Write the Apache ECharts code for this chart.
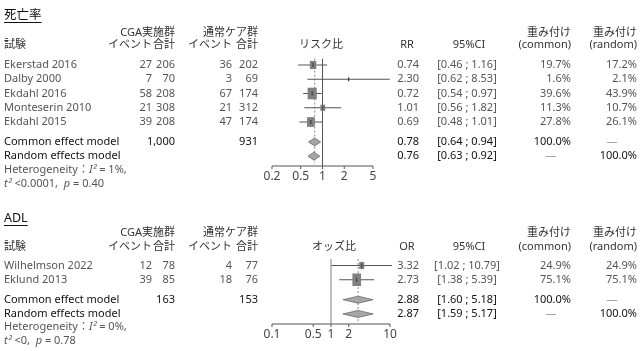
<!DOCTYPE html>
<html><head><meta charset="utf-8">
<script src="https://cdn.jsdelivr.net/npm/echarts@6/dist/echarts.min.js"></script>
<style>html,body{margin:0;padding:0;background:#fff}#c{width:640px;height:351px}</style>
</head><body><div id="c"></div>
<script>
// ---------- 死亡率 (mortality) ----------
const mortStudies = ['Ekerstad 2016','Dalby 2000','Ekdahl 2016','Monteserin 2010','Ekdahl 2015'];
const mortCgaEvents = [27, 7, 58, 21, 39];
const mortCgaTotal = [206, 70, 208, 308, 208];
const mortCtrlEvents = [36, 3, 67, 21, 47];
const mortCtrlTotal = [202, 69, 174, 312, 174];
const mortRR = [0.74, 2.30, 0.72, 1.01, 0.69];
const mortLo = [0.46, 0.62, 0.54, 0.56, 0.48];
const mortHi = [1.16, 8.53, 0.97, 1.82, 1.01];
const mortWCommon = [19.7, 1.6, 39.6, 11.3, 27.8];
const mortWRandom = [17.2, 2.1, 43.9, 10.7, 26.1];
const mortModelEst = [0.78, 0.76];
const mortModelLo = [0.64, 0.63];
const mortModelHi = [0.94, 0.92];
const mortTotals = ['1,000', '931'];
const mortTicks = [0.2, 0.5, 1, 2, 5];
const mortHet = ['1%', '<0.0001', '0.40'];

// ---------- ADL ----------
const adlStudies = ['Wilhelmson 2022','Eklund 2013'];
const adlCgaEvents = [12, 39];
const adlCgaTotal = [78, 85];
const adlCtrlEvents = [4, 18];
const adlCtrlTotal = [77, 76];
const adlOR = [3.32, 2.73];
const adlLo = [1.02, 1.38];
const adlHi = [10.79, 5.39];
const adlWCommon = [24.9, 75.1];
const adlWRandom = [24.9, 75.1];
const adlModelEst = [2.88, 2.87];
const adlModelLo = [1.60, 1.59];
const adlModelHi = [5.18, 5.17];
const adlTotals = ['163', '153'];
const adlTicks = [0.1, 0.5, 1, 2, 10];
const adlHet = ['0%', '<0', '0.78'];

const modelNames = ['Common effect model', 'Random effects model'];

const FONT = '"Noto Sans","Noto Sans CJK JP",sans-serif';
const rowH = 14.25, yMin = -1.5;
const FS = 11;

const panels = [
  {title:'死亡率', measure:'リスク比', effLabel:'RR', titleY:15, head1Y:33, head2Y:45, row0Y:65, axisY:166,
   left:272, right:373, xmin:0.2, xmax:5, ticks:mortTicks, refColor:'#555', refWidth:1,
   boxW:1.45, boxH:1.85, diaH:4, measureX:321, hetY:170,
   studies:mortStudies, ce:mortCgaEvents, ct:mortCgaTotal, ke:mortCtrlEvents, kt:mortCtrlTotal,
   est:mortRR, lo:mortLo, hi:mortHi, wc:mortWCommon, wr:mortWRandom,
   mEst:mortModelEst, mLo:mortModelLo, mHi:mortModelHi, totals:mortTotals, het:mortHet},
  {title:'ADL', measure:'オッズ比', effLabel:'OR', titleY:218, head1Y:233, head2Y:247, row0Y:265.5, axisY:324,
   left:272, right:390, xmin:0.1, xmax:10, ticks:adlTicks, refColor:'#aaa', refWidth:1.5,
   boxW:1.0, boxH:1.45, diaH:3.5, measureX:334, hetY:327,
   studies:adlStudies, ce:adlCgaEvents, ct:adlCgaTotal, ke:adlCtrlEvents, kt:adlCtrlTotal,
   est:adlOR, lo:adlLo, hi:adlHi, wc:adlWCommon, wr:adlWRandom,
   mEst:adlModelEst, mLo:adlModelLo, mHi:adlModelHi, totals:adlTotals, het:adlHet}
];

const col = {name:4, ce:152, ct:175, ke:232, kt:258, est:419, ci:467, wc:571, wr:637, wcDash:551, wrDash:612};

function fmt2(v){ return v.toFixed(2); }
function fmtW(v){ return v.toFixed(1) + '%'; }

const grids = [], xAxes = [], yAxes = [], series = [], graphics = [];

function txt(x, y, text, align, size, color, extra){
  return Object.assign({type:'text', style:{text:text, x:x, y:y, align:align, verticalAlign:'middle',
    fontSize:size, fontFamily:FONT, fill:color}}, extra || {});
}

const mc = document.createElement('canvas').getContext('2d');

panels.forEach((p, gi) => {
  const top = p.row0Y + yMin * rowH;
  const height = p.axisY - top;
  const yMax = yMin + height / rowH;
  const n = p.studies.length;
  grids.push({left:p.left, top:top, width:p.right - p.left, height:height});
  xAxes.push({type:'log', logBase:10, min:p.xmin, max:p.xmax, gridIndex:gi, show:false});
  yAxes.push({type:'value', inverse:true, min:yMin, max:yMax, gridIndex:gi, show:false});

  // guides: reference line, dashed pooled line, axis
  series.push({type:'custom', xAxisIndex:gi, yAxisIndex:gi, clip:false, silent:true, z:1,
    data:[[1, 0]],
    renderItem:(params, api) => {
      const ch = [];
      const a = api.coord([1, -0.45]), b = api.coord([1, yMax]);
      ch.push({type:'line', shape:{x1:a[0], y1:a[1], x2:b[0], y2:b[1]}, style:{stroke:p.refColor, lineWidth:p.refWidth}});
      const d1 = api.coord([p.mEst[0], -0.45]), d2 = api.coord([p.mEst[0], n + 1.4 + 0.5]);
      ch.push({type:'line', shape:{x1:d1[0], y1:d1[1], x2:d2[0], y2:d2[1]}, style:{stroke:'#888', lineWidth:1, lineDash:[2,2]}});
      const l = api.coord([p.xmin, yMax]), r = api.coord([p.xmax, yMax]);
      ch.push({type:'line', shape:{x1:l[0], y1:l[1], x2:r[0], y2:r[1]}, style:{stroke:'#555', lineWidth:1}});
      p.ticks.forEach(t => {
        const c = api.coord([t, yMax]);
        ch.push({type:'line', shape:{x1:c[0], y1:c[1], x2:c[0], y2:c[1] + 3}, style:{stroke:'#555', lineWidth:1}});
        ch.push(txt(c[0], c[1] + 10.5, String(t), 'center', 12, '#444'));
      });
      return {type:'group', children:ch};
    }});

  // forest marks
  const fdata = [];
  p.studies.forEach((s, i) => fdata.push([p.est[i], i, p.lo[i], p.hi[i], p.wc[i], 0]));
  p.mEst.forEach((e, j) => fdata.push([e, n + 0.4 + j, p.mLo[j], p.mHi[j], 0, 1]));
  series.push({type:'custom', xAxisIndex:gi, yAxisIndex:gi, clip:false, silent:true, z:2,
    data:fdata, encode:{x:0, y:1},
    renderItem:(params, api) => {
      const est = api.value(0), r = api.value(1), lo = api.value(2), hi = api.value(3), w = api.value(4), kind = api.value(5);
      const c = api.coord([est, r]), cl = api.coord([lo, r]), chh = api.coord([hi, r]);
      if (kind === 1) {
        return {type:'polygon', shape:{points:[[cl[0], c[1]], [c[0], c[1] - p.diaH], [chh[0], c[1]], [c[0], c[1] + p.diaH]]},
          style:{fill:'#a6a6a6', stroke:'#6a6a6a', lineWidth:0.8}};
      }
      const bw = p.boxW * Math.sqrt(w), bh = p.boxH * Math.sqrt(w);
      return {type:'group', children:[
        {type:'line', shape:{x1:cl[0], y1:c[1], x2:chh[0], y2:c[1]}, style:{stroke:'#555', lineWidth:1}},
        {type:'rect', shape:{x:c[0] - bw / 2, y:c[1] - bh / 2, width:bw, height:bh}, style:{fill:'#808080'}},
        {type:'line', shape:{x1:c[0], y1:c[1] - 2, x2:c[0], y2:c[1] + 2}, style:{stroke:'#333', lineWidth:1}}
      ]};
    }});

  // table text rows
  const tdata = [];
  p.studies.forEach((s, i) => tdata.push([1, i, i, 0]));
  p.mEst.forEach((e, j) => tdata.push([1, n + 0.4 + j, j, 1]));
  series.push({type:'custom', xAxisIndex:gi, yAxisIndex:gi, clip:false, silent:true, z:3,
    data:tdata, encode:{x:0, y:1},
    renderItem:(params, api) => {
      const r = api.value(1), i = api.value(2), kind = api.value(3);
      const y = api.coord([1, r])[1];
      const ch = [];
      if (kind === 0) {
        const c = '#555';
        ch.push(txt(col.name, y, p.studies[i], 'left', FS, c));
        ch.push(txt(col.ce, y, String(p.ce[i]), 'right', FS, c));
        ch.push(txt(col.ct, y, String(p.ct[i]), 'right', FS, c));
        ch.push(txt(col.ke, y, String(p.ke[i]), 'right', FS, c));
        ch.push(txt(col.kt, y, String(p.kt[i]), 'right', FS, c));
        ch.push(txt(col.est, y, fmt2(p.est[i]), 'right', FS, c));
        ch.push(txt(col.ci, y, '[' + fmt2(p.lo[i]) + ' ; ' + fmt2(p.hi[i]) + ']', 'center', FS, c));
        ch.push(txt(col.wc, y, fmtW(p.wc[i]), 'right', FS, c));
        ch.push(txt(col.wr, y, fmtW(p.wr[i]), 'right', FS, c));
      } else {
        const c = '#111';
        ch.push(txt(col.name, y, modelNames[i], 'left', FS, c));
        if (i === 0) {
          ch.push(txt(col.ct, y, p.totals[0], 'right', FS, c));
          ch.push(txt(col.kt, y, p.totals[1], 'right', FS, c));
          ch.push(txt(col.wc, y, '100.0%', 'right', FS, c));
          ch.push(txt(col.wrDash, y, '—', 'center', FS, '#999'));
        } else {
          ch.push(txt(col.wcDash, y, '—', 'center', FS, '#999'));
          ch.push(txt(col.wr, y, '100.0%', 'right', FS, c));
        }
        ch.push(txt(col.est, y, fmt2(p.mEst[i]), 'right', FS, c));
        ch.push(txt(col.ci, y, '[' + fmt2(p.mLo[i]) + ' ; ' + fmt2(p.mHi[i]) + ']', 'center', FS, c));
      }
      return {type:'group', children:ch};
    }});

  // headers (layout text)
  const hs = 11, hc = '#333';
  mc.font = '12.5px ' + FONT;
  const tw = mc.measureText(p.title).width;
  graphics.push(txt(4, p.titleY, p.title, 'left', 12.5, '#111'));
  graphics.push({type:'line', shape:{x1:4, y1:p.titleY + 7.5, x2:4 + tw, y2:p.titleY + 7.5}, style:{stroke:'#111', lineWidth:1}});
  graphics.push(txt(col.ct, p.head1Y, 'CGA実施群', 'right', hs, hc));
  graphics.push(txt(col.kt, p.head1Y, '通常ケア群', 'right', hs, hc));
  graphics.push(txt(col.name, p.head2Y, '試験', 'left', hs, hc));
  graphics.push(txt(col.ce, p.head2Y, 'イベント', 'right', hs, hc));
  graphics.push(txt(col.ct, p.head2Y, '合計', 'right', hs, hc));
  graphics.push(txt(col.ke, p.head2Y, 'イベント', 'right', hs, hc));
  graphics.push(txt(col.kt, p.head2Y, '合計', 'right', hs, hc));
  graphics.push(txt(p.measureX, p.head2Y, p.measure, 'center', hs, hc));
  graphics.push(txt(407, p.head2Y, p.effLabel, 'center', hs, hc));
  graphics.push(txt(469, p.head2Y, '95%CI', 'center', hs, hc));
  graphics.push(txt(col.wc, p.head1Y, '重み付け', 'right', hs, hc));
  graphics.push(txt(col.wc, p.head2Y, '(common)', 'right', hs, hc));
  graphics.push(txt(col.wr, p.head1Y, '重み付け', 'right', hs, hc));
  graphics.push(txt(col.wr, p.head2Y, '(random)', 'right', hs, hc));

  const rich = {n:{fontSize:11, fontFamily:FONT, fill:'#555'}, i:{fontSize:11, fontFamily:FONT, fill:'#555', fontStyle:'italic'}};
  graphics.push({type:'text', style:{x:4, y:p.hetY, verticalAlign:'middle', align:'left', rich:rich,
    text:'{n|Heterogeneity：}{i|I²}{n| = ' + p.het[0] + ',}'}});
  graphics.push({type:'text', style:{x:4, y:p.hetY + 14, verticalAlign:'middle', align:'left', rich:rich,
    text:'{i|t²}{n| ' + p.het[1] + ',  }{i|p}{n| = ' + p.het[2] + '}'}});
});

const chart = echarts.init(document.getElementById('c'), null, {renderer:'canvas'});
chart.setOption({
  animation:false,
  backgroundColor:'#fff',
  grid:grids, xAxis:xAxes, yAxis:yAxes, series:series,
  graphic:{elements:graphics}
});
</script></body></html>
